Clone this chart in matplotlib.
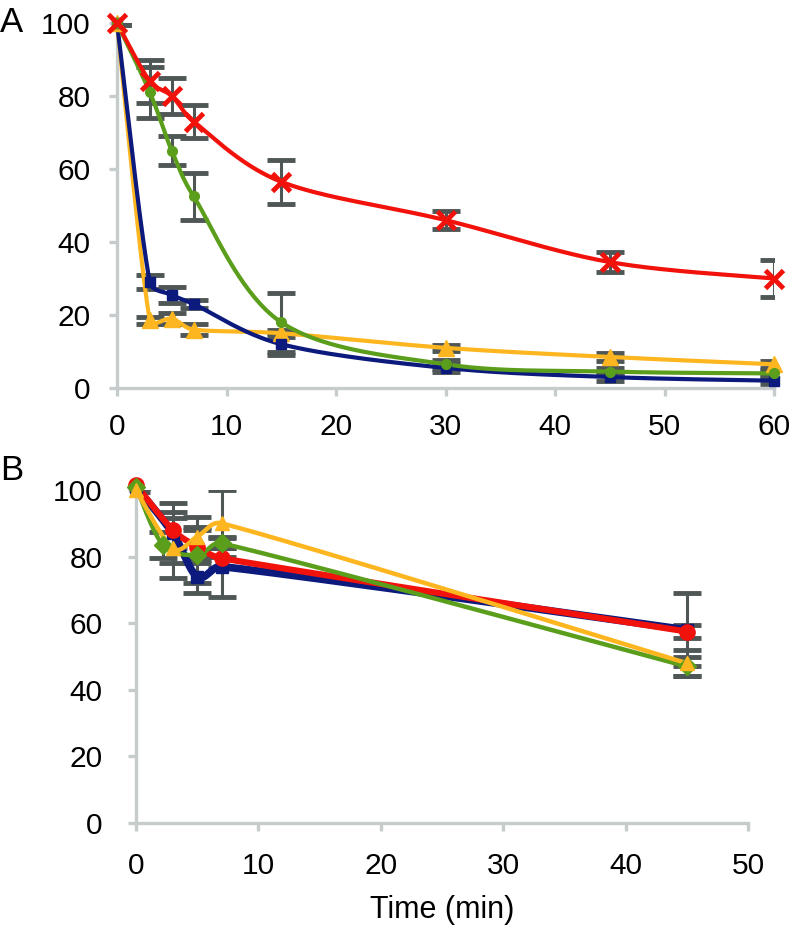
import numpy as np
import matplotlib
matplotlib.use("Agg")
import matplotlib.pyplot as plt

plt.rcParams['font.family'] = ['Liberation Sans', 'DejaVu Sans']

# panel A data (time in min, % remaining)
t_a = [0, 3, 5, 7, 15, 30, 45, 60]
a_red = [100, 84, 80, 73, 56.5, 46, 34.5, 30]
a_red_err = [0.5, 6, 5, 4.5, 6, 2.5, 2.7, 5]
a_green = [100, 81, 65, 52.5, 18, 6.5, 4.5, 4]
a_green_err = [0.5, 7, 4, 6.5, 8, 1.2, 1.0, 1.0]
a_blue = [100, 29, 25.5, 23, 12, 5.5, 3, 2]
a_blue_err = [0.5, 2, 2.3, 1.2, 3, 1.0, 1.0, 1.0]
a_yellow = [100, 18.5, 19, 16, 15, 11, 8.5, 6.5]
a_yellow_err = [0.5, 1, 1.5, 1.5, 1, 0.8, 1.0, 1.0]

# panel B data
t_b = [0, 3, 5, 7, 45]
t_b_green = [0, 2.2, 5, 7, 45]
b_blue = [101, 87, 74, 77, 58]
b_blue_err = [0.5, 9, 5, 9, 11]
b_red = [101.5, 88, 83, 79.5, 57.5]
b_red_err = [0.5, 5.5, 5, 3, 2]
b_green = [101, 83.5, 80.5, 84, 47]
b_green_err = [0.5, 4, 8.5, 1.5, 3]
b_yellow = [100, 82.5, 86, 90, 48]
b_yellow_err = [0.5, 9, 6, 10, 4]

RED = '#f2120c'
GREEN = '#5b9e1c'
BLUE = '#0b1a7c'
YELLOW = '#fdb61f'
ERR = '#4f5656'
AXC = '#c6cccc'


def smooth(x, y, sx, sy, n=40, lim=0.4):
    # excel-like smoothed line: bezier through the points,
    # control arms limited by the length of their own segment
    P = np.column_stack([np.asarray(x, float) * sx, np.asarray(y, float) * sy])
    out = []
    for i in range(len(P) - 1):
        p0 = P[i - 1] if i > 0 else P[i]
        p1, p2 = P[i], P[i + 1]
        p3 = P[i + 2] if i + 2 < len(P) else P[i + 1]
        chord = np.hypot(*(p2 - p1))
        d1 = (p2 - p0) / 6
        d2 = (p3 - p1) / 6
        for d in (d1, d2):
            L = np.hypot(*d)
            if L > lim * chord:
                d *= lim * chord / L
        c1 = p1 + d1
        c2 = p2 - d2
        s = np.linspace(0, 1, n)[:, None]
        seg = (1 - s) ** 3 * p1 + 3 * (1 - s) ** 2 * s * c1 + 3 * (1 - s) * s ** 2 * c2 + s ** 3 * p2
        out.append(seg if i == 0 else seg[1:])
    out = np.vstack(out)
    return out[:, 0] / sx, out[:, 1] / sy


def style(ax):
    for s in ['top', 'right']:
        ax.spines[s].set_visible(False)
    for s in ['left', 'bottom']:
        ax.spines[s].set_color(AXC)
        ax.spines[s].set_linewidth(2.4)
    ax.tick_params(colors=AXC, width=2.4, length=6, labelcolor='black', labelsize=21.5)
    ax.set_ylim(0, 100)
    ax.set_yticks([0, 20, 40, 60, 80, 100])


fig = plt.figure(figsize=(7.96, 9.32), dpi=100)
W, H = 796, 932

# ---- panel A
axA = fig.add_axes([117 / W, 1 - 388 / H, (774 - 117) / W, (388 - 23) / H])
style(axA)
axA.set_xlim(0, 60)
axA.set_xticks(range(0, 61, 10))
axA.tick_params(axis='y', pad=13)
axA.tick_params(axis='x', pad=12)

sxA, syA = 10.95, 3.65
seriesA = [
    (a_yellow, a_yellow_err, YELLOW, '^', 11, 3),
    (a_blue, a_blue_err, BLUE, 's', 7, 3),
    (a_green, a_green_err, GREEN, 'o', 7, 3),
    (a_red, a_red_err, RED, 'x', 13, 3),
]
for y, e, c, m, ms, lw in seriesA:
    axA.errorbar(t_a, y, yerr=e, fmt='none', ecolor=ERR, elinewidth=2.2,
                 capsize=10, capthick=3.5, zorder=2)
for y, e, c, m, ms, lw in seriesA:
    xs, ys = smooth(t_a, y, sxA, syA)
    axA.plot(xs, ys, color=c, lw=lw, zorder=3, clip_on=False)
    axA.plot(t_a, y, ls='none', marker=m, color=c, ms=ms,
             mew=3.5 if m == 'x' else 1, zorder=4, clip_on=False)

# ---- panel B
axB = fig.add_axes([136 / W, 1 - 823 / H, (748 - 136) / W, (823 - 490) / H])
style(axB)
axB.set_xlim(0, 50)
axB.set_xticks(range(0, 51, 10))
axB.tick_params(axis='y', pad=18)
axB.tick_params(axis='x', pad=15)
axB.set_xlabel('Time (min)', fontsize=22, labelpad=11)

sxB, syB = 12.2, 3.33
seriesB = [
    (t_b, b_blue, b_blue_err, BLUE, 's', 8, 5.5),
    (t_b, b_red, b_red_err, RED, 'o', 11, 4.5),
    (t_b_green, b_green, b_green_err, GREEN, 'D', 9, 3.2),
    (t_b, b_yellow, b_yellow_err, YELLOW, '^', 10, 3.2),
]
for t, y, e, c, m, ms, lw in seriesB:
    axB.errorbar(t, y, yerr=e, fmt='none', ecolor=ERR, elinewidth=2.2,
                 capsize=10, capthick=3.5, zorder=2)
for t, y, e, c, m, ms, lw in seriesB:
    xs, ys = smooth(t, y, sxB, syB)
    axB.plot(xs, ys, color=c, lw=lw, zorder=3, clip_on=False)
    axB.plot(t, y, ls='none', marker=m, color=c, ms=ms, zorder=4, clip_on=False)

fig.text(0, 1 - 23 / H, 'A', fontsize=25, va='center', ha='left')
fig.text(0, 1 - 470 / H, 'B', fontsize=25, va='center', ha='left')

fig.savefig('out.png', dpi=100)
